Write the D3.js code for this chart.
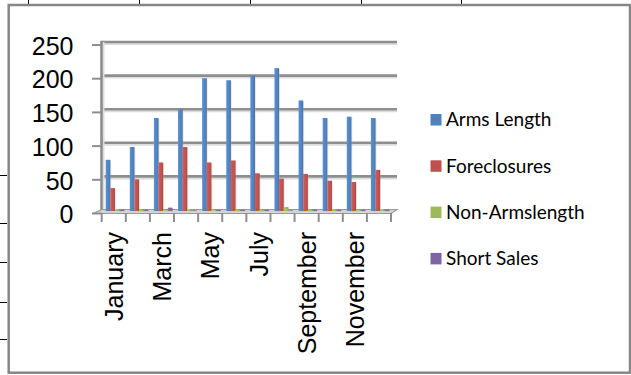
<!DOCTYPE html>
<html>
<head>
<meta charset="utf-8">
<script src="https://cdn.jsdelivr.net/npm/d3@7/dist/d3.min.js"></script>
<style>
  html, body { margin: 0; padding: 0; background: #fff; }
  svg { display: block; }
</style>
</head>
<body>
<svg id="chart" width="631" height="375"></svg>
<script>
// Monthly sales counts by transaction type
const months = ["January","February","March","April","May","June",
                "July","August","September","October","November","December"];
const armsLength    = [76, 95, 138, 151, 197, 194, 201, 212, 164, 138, 140, 138];
const foreclosures  = [34, 47, 72, 95, 72, 75, 56, 48, 55, 45, 43, 61];
const nonArmslength = [3, 2, 1, 3, 1, 2, 2, 6, 2, 2, 1, 3];
const shortSales    = [2, 2, 5, 1, 2, 2, 2, 1, 2, 2, 2, 2];
const seriesNames   = ["Arms Length", "Foreclosures", "Non-Armslength", "Short Sales"];
const seriesColors  = ["#4F81BD", "#C0504D", "#9BBB59", "#8064A2"];
const yTicks        = [0, 50, 100, 150, 200, 250];

const seriesValues = [armsLength, foreclosures, nonArmslength, shortSales];

const svg = d3.select("#chart");

// worksheet cell borders peeking out around the chart
const sheet = svg.append("g").attr("stroke", "#000").attr("stroke-width", 1);
[28, 139, 250, 361, 461].forEach(x =>
  sheet.append("line").attr("x1", x + 0.5).attr("x2", x + 0.5).attr("y1", 0).attr("y2", 4));
[175, 223, 262, 302, 339].forEach(y =>
  sheet.append("line").attr("x1", 0).attr("x2", 7).attr("y1", y + 0.5).attr("y2", y + 0.5));

// chart area
svg.append("rect")
  .attr("x", 8.7).attr("y", 5).attr("width", 621.3).attr("height", 367.7)
  .attr("fill", "#fff").attr("stroke", "#878787").attr("stroke-width", 2.5);

// scales
const x = d3.scaleBand().domain(months).range([101.7, 391]).padding(0);
const xs = d3.scaleBand().domain(d3.range(4)).range([4, 22.5]).padding(0);
const yBack  = d3.scaleLinear().domain([0, 250]).range([210, 42]);   // back wall
const yFront = d3.scaleLinear().domain([0, 250]).range([213.5, 45]); // front axis
const yBar   = d3.scaleLinear().domain([0, 250]).range([211, 42.5]);

const wallLeft = 101.5, wallRight = 397;

// gradients for the shaded columns
const defs = svg.append("defs");
seriesColors.forEach((c, i) => {
  const base = d3.color(c);
  const g = defs.append("linearGradient").attr("id", "grad" + i)
    .attr("x1", "0%").attr("x2", "100%").attr("y1", "0%").attr("y2", "0%");
  g.append("stop").attr("offset", "0%").attr("stop-color", base.brighter(0.35));
  g.append("stop").attr("offset", "45%").attr("stop-color", base.brighter(0.1));
  g.append("stop").attr("offset", "80%").attr("stop-color", base);
  g.append("stop").attr("offset", "100%").attr("stop-color", base.darker(0.7));
});

// gridlines on the back wall, with a soft shadow
const grid = svg.append("g");
yTicks.filter(t => t > 0).forEach(t => {
  grid.append("line")
    .attr("x1", wallLeft + 1).attr("x2", wallRight)
    .attr("y1", yBack(t) + 2).attr("y2", yBack(t) + 2)
    .attr("stroke", "#dcdcdc").attr("stroke-width", 2);
  grid.append("line")
    .attr("x1", wallLeft).attr("x2", wallRight)
    .attr("y1", yBack(t)).attr("y2", yBack(t))
    .attr("stroke", "#8e8e8e").attr("stroke-width", 2.6);
});

// left wall edge
grid.append("line")
  .attr("x1", wallLeft + 2).attr("x2", wallLeft + 2)
  .attr("y1", yBack(250)).attr("y2", 212)
  .attr("stroke", "#dcdcdc").attr("stroke-width", 2);
grid.append("line")
  .attr("x1", wallLeft).attr("x2", wallLeft)
  .attr("y1", yBack(250) - 1.2).attr("y2", 212)
  .attr("stroke", "#8e8e8e").attr("stroke-width", 2.6);

// floor
svg.append("path")
  .attr("d", `M93,213.5 L391,213.5 L397,209.5 L${wallLeft},209.5 Z`)
  .attr("fill", "#d4d4d4").attr("stroke", "#9a9a9a").attr("stroke-width", 1.2);

// value axis ticks and labels
const yAxis = svg.append("g");
yTicks.forEach(t => {
  yAxis.append("line")
    .attr("x1", 92).attr("x2", wallLeft)
    .attr("y1", yFront(t)).attr("y2", yFront(t))
    .attr("stroke", "#8e8e8e").attr("stroke-width", 2);
  yAxis.append("text")
    .attr("x", 73.5).attr("y", yFront(t) + 1)
    .attr("text-anchor", "end").attr("dy", "0.35em")
    .attr("font-family", "'Liberation Sans', Arial, sans-serif")
    .attr("font-size", 25).attr("fill", "#000")
    .text(t);
});

// category ticks
const tickXs = months.map(m => x(m)).concat([x.range()[1]]);
svg.append("g").selectAll("line").data(tickXs).join("line")
  .attr("x1", d => d).attr("x2", d => d)
  .attr("y1", 213).attr("y2", 222)
  .attr("stroke", "#8e8e8e").attr("stroke-width", 2);

// columns
const bars = svg.append("g");
months.forEach((m, mi) => {
  seriesValues.forEach((vals, si) => {
    const v = vals[mi];
    const bx = x(m) + xs(si);
    const w = xs.bandwidth();
    const top = yBar(v);
    const h = yBar(0) - top;
    // faint shadow
    bars.append("rect")
      .attr("x", bx + 1).attr("y", top + 1).attr("width", w).attr("height", h)
      .attr("fill", "#bfbfbf").attr("opacity", 0.35);
    bars.append("rect")
      .attr("x", bx).attr("y", top).attr("width", w).attr("height", h)
      .attr("fill", `url(#grad${si})`);
  });
});

// category labels (every other month)
svg.append("g").selectAll("text")
  .data(months.filter((m, i) => i % 2 === 0)).join("text")
  .attr("transform", d => `translate(${x(d) + x.bandwidth() / 2 + 0.5},232) rotate(-90)`)
  .attr("text-anchor", "end").attr("dy", "0.35em")
  .attr("font-family", "'Liberation Sans', Arial, sans-serif")
  .attr("font-size", 25).attr("fill", "#000")
  .text(d => d);

// legend
const legend = svg.append("g");
seriesNames.forEach((name, i) => {
  const cy = 119.5 + i * 46.3;
  legend.append("rect")
    .attr("x", 430.5).attr("y", cy - 5.5).attr("width", 11).attr("height", 11.5)
    .attr("fill", seriesColors[i]);
  legend.append("text")
    .attr("x", 446).attr("y", cy).attr("dy", "0.36em")
    .attr("font-family", "Lato, 'Open Sans', sans-serif")
    .attr("font-size", 19).attr("fill", "#000")
    .text(name);
});
</script>
</body>
</html>
